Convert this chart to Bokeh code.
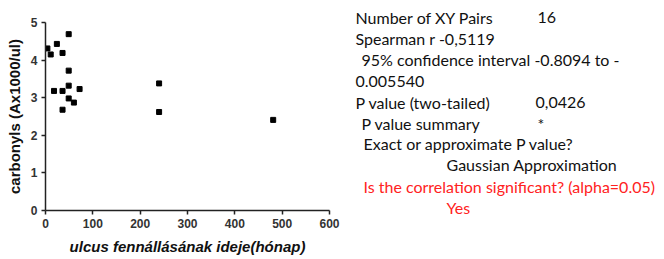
from bokeh.plotting import figure
from bokeh.layouts import row
from bokeh.models import FixedTicker
from bokeh.core.properties import value
from bokeh.embed import file_html
from bokeh.resources import INLINE

months = [4, 11, 24, 18, 36, 36, 36, 49, 49, 49, 49, 60, 72, 240, 240, 481]
carbonyls = [4.31, 4.15, 4.43, 3.18, 4.19, 3.18, 2.68, 4.69, 3.72, 3.32, 2.98, 2.87, 3.23, 3.38, 2.62, 2.41]
x_ticks = [0, 100, 200, 300, 400, 500, 600]
y_ticks = [0, 1, 2, 3, 4, 5]

stat_lines = [
    "Number of XY Pairs",
    "Spearman r  -0,5119",
    "95% confidence  interval -0.8094 to -",
    "0.005540",
    "P value (two-tailed)",
    "P value summary",
    "Exact or approximate P value?",
    "Gaussian Approximation",
]
stat_values = ["16", "0,0426", "*"]
red_lines = ["Is the correlation significant? (alpha=0.05)", "Yes"]

W1, H = 340, 259
p = figure(width=W1, height=H, x_range=(0, 600), y_range=(0, 5),
           output_backend="svg", toolbar_location=None,
           min_border_left=45, min_border_right=W1 - 329, min_border_top=22, min_border_bottom=H - 210)
p.outline_line_color = None
p.grid.grid_line_color = None
p.scatter(months, carbonyls, marker="square", size=5, color="black")

for ax in (p.xaxis[0], p.yaxis[0]):
    ax.major_tick_out = 4
    ax.major_tick_in = 0
    ax.minor_tick_out = 0
    ax.minor_tick_in = 0
    ax.axis_line_width = 1.5
    ax.axis_line_color = "#222222"
    ax.major_tick_line_color = "#222222"
    ax.major_tick_line_width = 1.5
    ax.major_label_text_font = "Liberation Sans"
    ax.major_label_text_font_size = "12px"
    ax.major_label_text_color = "#333333"
    ax.major_label_text_font_style = "bold"
    ax.axis_label_text_font = "Liberation Sans"
    ax.axis_label_text_font_size = "15px"
    ax.axis_label_text_color = "#111111"
p.xaxis.ticker = FixedTicker(ticks=x_ticks)
p.yaxis.ticker = FixedTicker(ticks=y_ticks)
p.xaxis.axis_label = "ulcus fennállásának ideje(hónap)"
p.xaxis.axis_label_text_font_style = "bold italic"
p.yaxis.axis_label = "carbonyls (Ax1000/ul)"
p.yaxis.axis_label_text_font_style = "bold"
p.xaxis.major_label_standoff = 4
p.yaxis.major_label_standoff = 4
p.xaxis.axis_label_standoff = 7
p.yaxis.axis_label_standoff = 5

# text panel (coordinates in pixels, y downward)
W2 = 664 - W1
t = figure(width=W2, height=H, x_range=(0, W2), y_range=(H, 0),
           output_backend="svg", toolbar_location=None, title=None,
           x_axis_location=None, y_axis_location=None, min_border=0)
t.grid.grid_line_color = None
t.outline_line_color = None
for fig in (p, t):
    if "frame_align" in fig.properties():
        fig.frame_align = False

lx = [x - W1 for x in [355, 355, 361, 355, 355, 361, 363, 446]]
ly = [17, 38, 59, 81, 102, 123, 143, 164]
font = value("Lato")
t.text(lx, ly, text=stat_lines, text_font=font, text_font_size="16px",
       text_baseline="middle", text_align="left", text_color="#111111")
t.text([537 - W1, 535 - W1, 537 - W1], [17, 102, 123], text=stat_values, text_font=font,
       text_font_size="16px", text_baseline="middle", text_align="left", text_color="#111111")
t.text([363 - W1, 446 - W1], [186, 207], text=red_lines, text_font=font,
       text_font_size="16px", text_baseline="middle", text_align="left", text_color="#ff2222")

layout = row(p, t)
open("out.html", "w").write(file_html(layout, INLINE))
